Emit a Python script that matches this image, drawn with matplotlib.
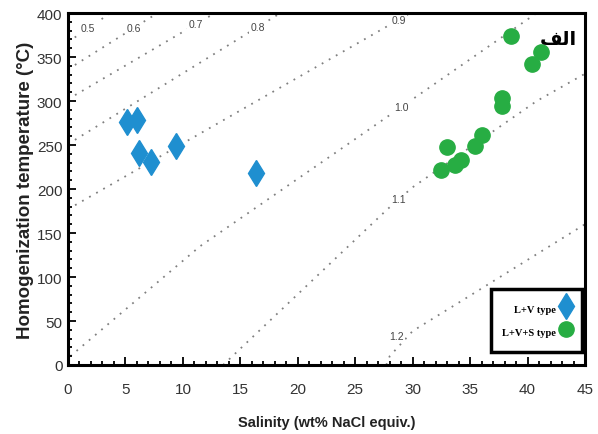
import numpy as np
import matplotlib.pyplot as plt
from matplotlib.ticker import MultipleLocator

# fluid inclusion data (salinity wt% NaCl equiv., Th in C)
lv_salinity = [5.1, 6.0, 6.2, 7.2, 9.4, 16.4]
lv_temp = [276, 278, 241, 231, 249, 218]

lvs_salinity = [32.5, 33.0, 33.7, 34.2, 35.4, 36.0, 37.8, 37.8, 38.6, 40.4, 41.2]
lvs_temp = [222, 248, 227, 233, 249, 261, 294, 303, 374, 342, 356]

# isochores (density g/cm3)
iso_labels = ["0.5", "0.6", "0.7", "0.8", "0.9", "1.0", "1.1", "1.2"]
iso_x = [
    [0, 3.7],
    [0, 7.8],
    [0, 12.8],
    [0, 18.5],
    [0, 29.8],
    [0.2, 11.5, 23.7, 40.8],
    [13.5, 27.8, 30.0, 40.8, 45],
    [27.7, 28.0, 30.0, 34.1, 45],
]
iso_t = [
    [367, 400],
    [336, 400],
    [302, 400],
    [251, 400],
    [177, 400],
    [10, 135, 245, 400],
    [0, 177, 202, 300, 331],
    [0, 10, 38.6, 71.6, 160],
]
label_x = [1.75, 5.7, 11.1, 16.5, 28.8, 29.0, 28.8, 28.6]

fig = plt.figure(figsize=(5.98, 4.35), dpi=100)
ax = fig.add_axes([68 / 598, 1 - 366 / 435, 517 / 598, 352 / 435])

for lab, xs, ts, lx in zip(iso_labels, iso_x, iso_t, label_x):
    ax.plot(xs, ts, color="#808080", lw=1.3, linestyle=(0, (1, 3.5)), zorder=1)
    ly = np.interp(lx, xs, ts)
    if lab == "1.2":
        ly = ly + 14
    ax.text(lx, ly, lab, fontsize=7.5, color="#444444", ha="center", va="center",
            family="Liberation Sans", zorder=2,
            bbox=dict(facecolor="white", edgecolor="none", pad=1.0))

ax.plot(lv_salinity, lv_temp, linestyle="none", marker="d", markersize=13,
        color="#1f8fd0", label="L+V type", zorder=3)
ax.plot(lvs_salinity, lvs_temp, linestyle="none", marker="o", markersize=11,
        color="#27ad43", label="L+V+S type", zorder=3)

ax.set_xlim(0, 45)
ax.set_ylim(0, 400)
ax.xaxis.set_major_locator(MultipleLocator(5))
ax.xaxis.set_minor_locator(MultipleLocator(1))
ax.yaxis.set_major_locator(MultipleLocator(50))
ax.yaxis.set_minor_locator(MultipleLocator(10))
ax.tick_params(which="both", direction="in", top=False, right=False, width=1.3)
ax.tick_params(which="major", length=6, labelsize=11)
ax.tick_params(axis="x", which="major", pad=12)
ax.tick_params(axis="y", which="major", pad=4)
ax.tick_params(which="minor", length=3)
for lbl in ax.get_xticklabels() + ax.get_yticklabels():
    lbl.set_family("Liberation Sans")
    lbl.set_color("#333333")
for sp in ax.spines.values():
    sp.set_linewidth(2.2)

ax.set_xlabel("Salinity (wt% NaCl equiv.)", fontsize=10.5, fontweight="bold",
              family="Liberation Sans", color="#222222", labelpad=14)
ax.set_ylabel("Homogenization temperature (\u00b0C)", fontsize=13.5, fontweight="bold",
              family="Liberation Sans", color="#222222", labelpad=2)

# Arabic "الف" in presentation forms, visual order
ax.text(0.985, 0.955, "\ufed2\ufedf\ufe8d", transform=ax.transAxes, fontsize=14,
        fontweight="bold", family="DejaVu Sans", ha="right", va="top")

leg = ax.legend(loc="lower right", bbox_to_anchor=(0.994, 0.037), borderaxespad=0,
                markerfirst=False, fancybox=False, framealpha=1,
                handlelength=0.8, handleheight=2.2, labelspacing=0.5,
                borderpad=1.1, handletextpad=0.6,
                prop={"family": "Liberation Serif", "size": 7.5, "weight": "bold"})
leg.get_frame().set_edgecolor("black")
leg.get_frame().set_linewidth(2.5)

fig.savefig("out.png", dpi=100)
